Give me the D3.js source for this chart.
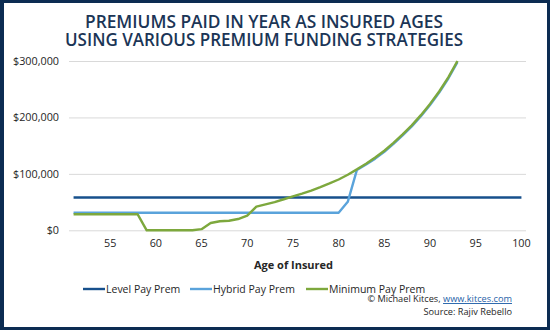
<!DOCTYPE html>
<html>
<head>
<meta charset="utf-8">
<script src="https://cdn.jsdelivr.net/npm/d3@7"></script>
<style>
  html, body { margin: 0; padding: 0; background: #fff; }
  svg { display: block; }
  text { font-family: "Open Sans", "DejaVu Sans", sans-serif; }
</style>
</head>
<body>
<svg id="chart" width="550" height="330"></svg>
<script>
// ---- Data ----
const titleLines = ["PREMIUMS PAID IN YEAR AS INSURED AGES", "USING VARIOUS PREMIUM FUNDING STRATEGIES"];
const ages = [51,52,53,54,55,56,57,58,59,60,61,62,63,64,65,66,67,68,69,70,
              71,72,73,74,75,76,77,78,79,80,81,82,83,84,85,86,87,88,89,90,
              91,92,93,94,95,96,97,98,99,100];
const xTickLabels = [55,60,65,70,75,80,85,90,95,100];
const yTickValues = [0,100000,200000,300000];

const levelPay = [58000,58000,58000,58000,58000,58000,58000,58000,58000,58000,
                  58000,58000,58000,58000,58000,58000,58000,58000,58000,58000,
                  58000,58000,58000,58000,58000,58000,58000,58000,58000,58000,
                  58000,58000,58000,58000,58000,58000,58000,58000,58000,58000,
                  58000,58000,58000,58000,58000,58000,58000,58000,58000,58000];
const hybridPay = [31000,31000,31000,31000,31000,31000,31000,31000,31000,31000,
                   31000,31000,31000,31000,31000,31000,31000,31000,31000,31000,
                   31000,31000,31000,31000,31000,31000,31000,31000,31000,31000,
                   50500,107000,116500,127000,139000,153000,168000,184000,202000,222000,
                   244000,269000,298000];
const minimumPay = [28500,28500,28500,28500,28500,28500,28500,28500,0,0,
                    0,0,0,0,2000,13000,16000,17000,20000,26000,
                    42000,46000,50000,55000,60000,65000,70500,76500,83000,90000,
                    98500,108000,118000,129000,141000,155000,170000,186000,204000,224000,
                    246000,271000,300000];

const seriesNames = ["Level Pay Prem", "Hybrid Pay Prem", "Minimum Pay Prem"];
const seriesValues = [levelPay, hybridPay, minimumPay];
const seriesColors = ["#17508c", "#5aa3db", "#7da83d"];

// ---- Layout ----
const svg = d3.select("#chart");
const W = 550, H = 330;
const plot = { left: 69, right: 526, top: 61, bottom: 230.3 };

// Frame
svg.append("rect").attr("width", W).attr("height", H).attr("fill", "#0c2c52");
svg.append("rect").attr("x", 4).attr("y", 3).attr("width", 543).attr("height", 324).attr("fill", "#fff");

// Title (one text element, two lines)
const title = svg.append("text")
  .attr("text-anchor", "middle")
  .attr("fill", "#1b3556")
  .attr("font-size", 18).attr("font-weight", 650);
title.selectAll("tspan").data(titleLines).join("tspan")
  .attr("x", 264).attr("y", (d, i) => 27.5 + i * 18.5)
  .attr("textLength", (d, i) => i === 0 ? 358 : 398)
  .attr("lengthAdjust", "spacingAndGlyphs")
  .text(d => d);

// Scales
const x = d3.scaleBand().domain(ages).range([plot.left, plot.right]).padding(0);
const y = d3.scaleLinear().domain([0, 300000]).range([plot.bottom, plot.top]);
const cx = a => x(a) + x.bandwidth() / 2;

// Y axis with gridlines
const yAxis = svg.append("g")
  .attr("transform", `translate(${plot.left},0)`)
  .call(d3.axisLeft(y).tickValues(yTickValues)
        .tickSize(-(plot.right - plot.left))
        .tickPadding(10)
        .tickFormat(d => "$" + d3.format(",")(d)));
yAxis.select(".domain").remove();
yAxis.selectAll(".tick line").attr("stroke", "#d9d9d9").attr("stroke-width", 1);
yAxis.selectAll(".tick text")
  .attr("font-size", 10.8).attr("fill", "#262626")
  .attr("font-family", "'Open Sans', sans-serif");

// X axis
const xAxis = svg.append("g")
  .attr("transform", `translate(0,${plot.bottom})`)
  .call(d3.axisBottom(x).tickValues(xTickLabels).tickSize(0).tickPadding(9));
xAxis.select(".domain").remove();
xAxis.selectAll(".tick text")
  .attr("font-size", 10.8).attr("fill", "#262626")
  .attr("font-family", "'Open Sans', sans-serif");

// X axis title
svg.append("text")
  .attr("x", 293.5).attr("y", 269)
  .attr("text-anchor", "middle")
  .attr("font-size", 11).attr("font-weight", 700).attr("fill", "#262626")
  .text("Age of Insured");

// Lines
const line = d3.line()
  .x((d, i) => cx(ages[i]))
  .y(d => y(d));

svg.append("g").selectAll("path").data(seriesValues).join("path")
  .attr("d", d => line(d))
  .attr("fill", "none")
  .attr("stroke", (d, i) => seriesColors[i])
  .attr("stroke-width", 2.4)
  .attr("stroke-linejoin", "round");

// Legend
const legendX = [83, 190, 306];
const legend = svg.append("g").selectAll("g").data(seriesNames).join("g")
  .attr("transform", (d, i) => `translate(${legendX[i]},289)`);
legend.append("line")
  .attr("x1", 0).attr("x2", 22).attr("y1", 0).attr("y2", 0)
  .attr("stroke", (d, i) => seriesColors[i]).attr("stroke-width", 2.4);
legend.append("text")
  .attr("x", 23).attr("y", 3.8)
  .attr("font-size", 10.5).attr("fill", "#262626")
  .text(d => d);

// Footer
const footer = svg.append("text")
  .attr("text-anchor", "end")
  .attr("font-size", 9.2).attr("fill", "#262626");
const f1 = footer.append("tspan").attr("x", 512).attr("y", 302);
f1.append("tspan").text("© Michael Kitces, ");
f1.append("tspan").attr("fill", "#1f5fa8").attr("text-decoration", "underline").text("www.kitces.com");
footer.append("tspan").attr("x", 512).attr("y", 314.5).text("Source: Rajiv Rebello");
</script>
</body>
</html>
